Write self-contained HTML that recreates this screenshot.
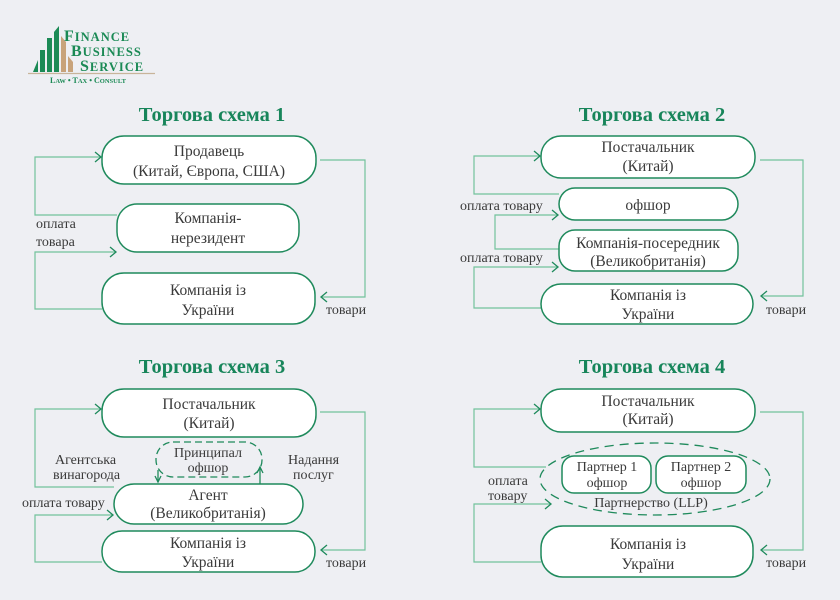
<!DOCTYPE html>
<html><head><meta charset="utf-8"><style>
html,body{margin:0;padding:0;background:#eeeff3}
svg{display:block}
text{font-family:"Liberation Serif","DejaVu Serif",serif;fill:#3a3a3a}
.t{font-size:20.5px;font-weight:bold;fill:#17855a}
.b{font-size:15.5px;text-anchor:middle}
.l{font-size:14px}
.box{fill:#fff;stroke:#1f8a5c;stroke-width:1.5}
.c{fill:none;stroke:#72c29c;stroke-width:1.2}
.a{fill:none;stroke:#1f8a5c;stroke-width:1.3}
.lg{font-weight:bold;fill:#1b8a55;letter-spacing:1px}
</style></head><body>
<svg width="840" height="600" viewBox="0 0 840 600">
<rect width="840" height="600" fill="#eeeff3"/>
<!-- logo -->
<polygon points="33,72 38,60 38,72" fill="#1b8a55"/>
<rect x="40" y="50" width="5" height="22" fill="#1b8a55"/>
<rect x="47" y="38" width="5" height="34" fill="#1b8a55"/>
<polygon points="54,72 54,32 59,26 59,72" fill="#1b8a55"/>
<polygon points="61,72 61,36 66,42 66,72" fill="#c8a37a"/>
<polygon points="68,72 68,56 73,62 73,72" fill="#c8a37a"/>
<line x1="28" y1="73.5" x2="155" y2="73.5" stroke="#c8b49a" stroke-width="1.2"/>
<text class="lg" x="64" y="41" style="font-size:16px">F<tspan style="font-size:12.5px">INANCE</tspan></text>
<text class="lg" x="71" y="56" style="font-size:16px">B<tspan style="font-size:12.5px">USINESS</tspan></text>
<text class="lg" x="80" y="71" style="font-size:16px">S<tspan style="font-size:12.5px">ERVICE</tspan></text>
<text x="50" y="83" style="font-size:8px;font-weight:bold;fill:#1b8a55">L<tspan style="font-size:6.5px">AW</tspan> • T<tspan style="font-size:6.5px">AX</tspan> • C<tspan style="font-size:6.5px">ONSULT</tspan></text>

<!-- Scheme 1 -->
<text class="t" x="212" y="121" text-anchor="middle">Торгова схема 1</text>
<polyline class="c" points="117,215 35,215 35,157 100,157"/>
<polyline class="a" points="95,152 101,157 95,162"/>
<polyline class="c" points="102,309 35,309 35,252 115,252"/>
<polyline class="a" points="110,247 116,252 110,257"/>
<polyline class="c" points="320,160 365,160 365,297 322,297"/>
<polyline class="a" points="327,292 321,297 327,302"/>
<rect class="box" x="102" y="136" width="214" height="48" rx="22"/>
<text class="b" x="209" y="156">Продавець</text>
<text class="b" x="209" y="176">(Китай, Європа, США)</text>
<rect class="box" x="117" y="204" width="182" height="48" rx="20"/>
<text class="b" x="208" y="223">Компанія-</text>
<text class="b" x="208" y="243">нерезидент</text>
<rect class="box" x="102" y="273" width="213" height="51" rx="22"/>
<text class="b" x="208" y="295">Компанія із</text>
<text class="b" x="208" y="315">України</text>
<text class="l" x="36" y="228">оплата</text>
<text class="l" x="36" y="246">товара</text>
<text class="l" x="326" y="314">товари</text>

<!-- Scheme 2 -->
<text class="t" x="652" y="121" text-anchor="middle">Торгова схема 2</text>
<polyline class="c" points="559,194 474,194 474,156 539,156"/>
<polyline class="a" points="534,151 540,156 534,161"/>
<polyline class="c" points="559,249 495,249 495,215 557,215"/>
<polyline class="a" points="552,210 558,215 552,220"/>
<polyline class="c" points="541,308 474,308 474,267 557,267"/>
<polyline class="a" points="552,262 558,267 552,272"/>
<polyline class="c" points="760,160 803,160 803,296 762,296"/>
<polyline class="a" points="767,291 761,296 767,301"/>
<rect class="box" x="541" y="136" width="214" height="42" rx="20"/>
<text class="b" x="648" y="152">Постачальник</text>
<text class="b" x="648" y="171">(Китай)</text>
<rect class="box" x="559" y="188" width="179" height="32" rx="16"/>
<text class="b" x="648" y="210">офшор</text>
<rect class="box" x="559" y="230" width="179" height="41" rx="16"/>
<text class="b" x="648" y="248">Компанія-посередник</text>
<text class="b" x="648" y="266">(Великобританія)</text>
<rect class="box" x="541" y="284" width="212" height="40" rx="20"/>
<text class="b" x="648" y="300">Компанія із</text>
<text class="b" x="648" y="319">України</text>
<text class="l" x="460" y="210">оплата товару</text>
<text class="l" x="460" y="262">оплата товару</text>
<text class="l" x="766" y="314">товари</text>

<!-- Scheme 3 -->
<text class="t" x="212" y="373" text-anchor="middle">Торгова схема 3</text>
<polyline class="c" points="114,487 35,487 35,409 100,409"/>
<polyline class="a" points="95,404 101,409 95,414"/>
<polyline class="c" points="102,562 35,562 35,515 112,515"/>
<polyline class="a" points="107,510 113,515 107,520"/>
<polyline class="c" points="320,412 365,412 365,550 322,550"/>
<polyline class="a" points="327,545 321,550 327,555"/>
<rect class="box" x="102" y="389" width="214" height="48" rx="22"/>
<text class="b" x="209" y="409">Постачальник</text>
<text class="b" x="209" y="428">(Китай)</text>
<rect x="156" y="442" width="106" height="35" rx="17" fill="none" stroke="#1f8a5c" stroke-width="1.3" stroke-dasharray="7,4"/>
<text class="b" x="208" y="457" style="font-size:14px">Принципал</text>
<text class="b" x="208" y="472" style="font-size:14px">офшор</text>
<polyline class="a" points="155,476 158,482 161,476"/>
<line class="a" x1="158" y1="470" x2="158" y2="482"/>
<polyline class="a" points="257,473 260,467 263,473"/>
<line class="a" x1="260" y1="467" x2="260" y2="484"/>
<rect class="box" x="114" y="484" width="189" height="40" rx="20"/>
<text class="b" x="208" y="500">Агент</text>
<text class="b" x="208" y="518">(Великобританія)</text>
<rect class="box" x="102" y="531" width="213" height="41" rx="20"/>
<text class="b" x="208" y="548">Компанія із</text>
<text class="b" x="208" y="567">України</text>
<text class="l" x="55" y="464">Агентська</text>
<text class="l" x="53" y="479">винагорода</text>
<text class="l" x="22" y="507">оплата товару</text>
<text class="l" x="288" y="464">Надання</text>
<text class="l" x="293" y="479">послуг</text>
<text class="l" x="326" y="567">товари</text>

<!-- Scheme 4 -->
<text class="t" x="652" y="373" text-anchor="middle">Торгова схема 4</text>
<polyline class="c" points="546,467 474,467 474,409 539,409"/>
<polyline class="a" points="534,404 540,409 534,414"/>
<polyline class="c" points="541,562 474,562 474,504 550,504"/>
<polyline class="a" points="545,499 551,504 545,509"/>
<polyline class="c" points="760,412 803,412 803,550 762,550"/>
<polyline class="a" points="767,545 761,550 767,555"/>
<rect class="box" x="541" y="389" width="214" height="43" rx="20"/>
<text class="b" x="648" y="406">Постачальник</text>
<text class="b" x="648" y="424">(Китай)</text>
<ellipse cx="655" cy="479" rx="115" ry="36" fill="none" stroke="#1f8a5c" stroke-width="1.3" stroke-dasharray="9,6"/>
<rect class="box" x="562" y="456" width="89" height="37" rx="12"/>
<text class="b" x="607" y="471" style="font-size:14px">Партнер 1</text>
<text class="b" x="607" y="487" style="font-size:14px">офшор</text>
<rect class="box" x="656" y="456" width="90" height="37" rx="12"/>
<text class="b" x="701" y="471" style="font-size:14px">Партнер 2</text>
<text class="b" x="701" y="487" style="font-size:14px">офшор</text>
<text class="b" x="651" y="507" style="font-size:14px">Партнерство (LLP)</text>
<rect class="box" x="541" y="526" width="212" height="51" rx="22"/>
<text class="b" x="648" y="549">Компанія із</text>
<text class="b" x="648" y="569">України</text>
<text class="l" x="488" y="485">оплата</text>
<text class="l" x="488" y="500">товару</text>
<text class="l" x="766" y="567">товари</text>
</svg>
</body></html>
